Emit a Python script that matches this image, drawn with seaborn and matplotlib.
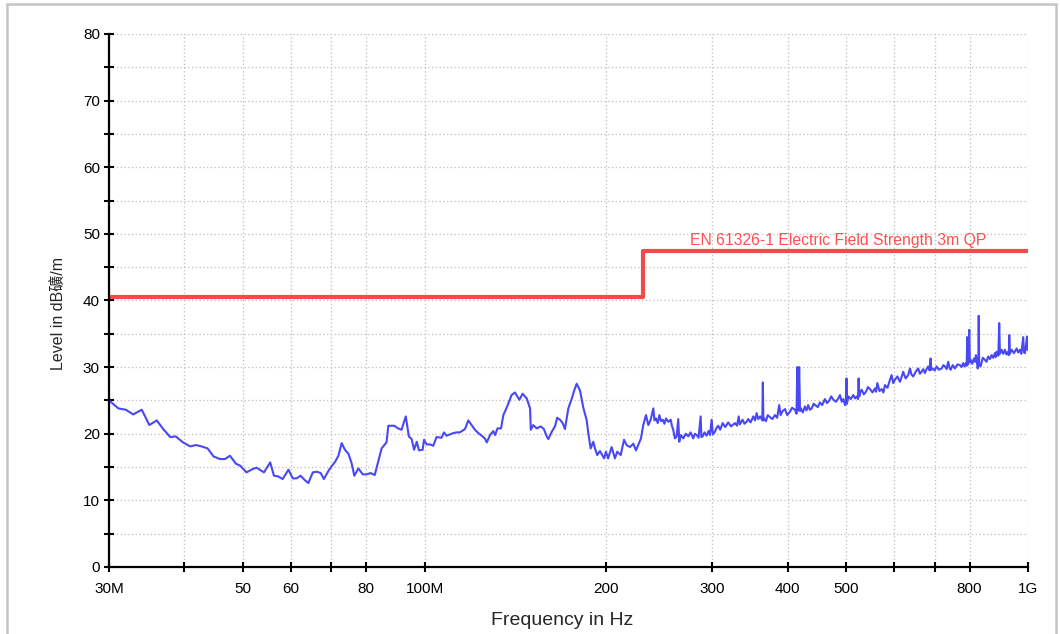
import pandas as pd
import seaborn as sns
import matplotlib
matplotlib.use("Agg")
from matplotlib import pyplot as plt
from matplotlib.patches import Rectangle

# measured trace (MHz, dBuV/m)
freq = [30.0, 31.1, 32.0, 32.9, 34.0, 35.0, 36.0, 36.9, 37.9, 38.7, 39.8, 40.9, 41.8, 42.7, 43.7,
        44.7, 45.8, 46.7, 47.6, 48.7, 49.5, 50.7, 51.9, 52.7, 54.2, 55.5, 56.3, 57.2, 58.2, 59.5,
        60.5, 61.4, 62.3, 63.4, 64.2, 65.3, 66.3, 67.3, 68.1, 69.5, 71.1, 72.0, 72.9, 73.8, 74.8,
        75.7, 76.5, 77.7, 79.0, 80.2, 81.4, 82.7, 84.9, 86.5, 87.1, 89.1, 90.4, 91.6, 93.1, 94.2,
        95.2, 96.1, 97.1, 97.9, 99.3, 99.8, 100.8, 102.1, 103.4, 104.7, 106.7, 107.7, 108.8, 110.2,
        111.6, 113.0, 114.4, 116.7, 118.2, 119.7, 121.2, 122.8, 124.4, 125.9, 126.8, 128.4, 130.0,
        130.9, 132.1, 133.9, 135.1, 137.1, 139.4, 141.2, 143.6, 145.4, 147.7, 149.6, 150.0, 151.4,
        153.4, 155.8, 157.7, 159.4, 160.4, 162.5, 164.5, 165.9, 167.7, 169.4, 170.9, 173.1, 175.3,
        176.9, 178.7, 181.0, 183.3, 185.7, 186.8, 188.5, 190.4, 191.6, 193.3, 195.3, 198.4, 199.8,
        201.5, 204.2, 206.8, 208.6, 211.4, 214.1, 216.2, 219.0, 221.8, 224.1, 226.9, 228.4,
        230.4, 232.8, 234.9, 237.0, 239.4, 240.5, 241.9, 243.5, 245.0, 246.5, 248.2, 249.8, 251.3,
        253.5, 255.8, 257.0, 258.3, 260.0, 261.7, 263.3, 264.3, 266.0, 268.4, 271.0, 273.6, 276.0,
        278.8, 280.5, 282.5, 284.5, 286.8, 287.6, 289.0, 291.0, 293.4, 295.5, 297.2, 299.1, 300.5,
        302.9, 304.8, 306.7, 309.0, 311.9, 315.0, 318.6, 322.0, 326.9, 329.5, 331.6, 333.0, 336.6,
        339.0, 341.8, 343.9, 347.0, 350.6, 353.0, 355.1, 357.3, 360.0, 362.8, 363.6, 364.4, 365.2,
        368.0, 370.5, 373.6, 377.0, 380.8, 384.0, 387.0, 389.1, 392.0, 395.7, 399.0, 403.2, 406.5,
        411.0, 413.5, 414.7, 416.0, 417.7, 419.0, 420.5, 423.5, 426.9, 429.5, 432.3, 435.0, 438.0,
        441.5, 445.2, 448.5, 452.1, 456.0, 460.8, 464.5, 468.5, 472.0, 475.9, 480.5, 484.9, 488.0,
        491.3, 494.5, 497.5, 499.5, 500.3, 501.2, 503.8, 508.5, 513.5, 517.0, 520.2, 522.8, 524.0,
        525.3, 527.5, 530.2, 534.5, 538.9, 543.0, 547.3, 552.5, 557.8, 560.0, 562.8, 567.5, 572.2,
        576.0, 579.4, 585.0, 590.6, 594.3, 598.0, 601.9, 607.5, 613.4, 617.5, 621.2, 627.0, 633.1,
        637.4, 641.0, 645.4, 651.5, 657.8, 662.0, 666.3, 670.5, 674.8, 679.0, 683.4, 687.0, 689.7,
        691.5, 695.0, 700.5, 705.6, 712.0, 719.3, 724.0, 728.4, 733.0, 737.6, 741.0, 744.4, 750.5,
        756.7, 764.0, 771.3, 776.0, 781.0, 785.0, 789.0, 791.5, 793.1, 795.0, 799.3, 801.0, 803.5,
        808.5, 813.8, 817.0, 820.0, 823.0, 825.3, 827.5, 828.6, 830.0, 834.6, 841.5, 848.4, 853.5,
        859.2, 865.0, 870.3, 876.0, 881.4, 884.0, 887.1, 893.0, 896.0, 898.5, 904.3, 910.0, 915.8,
        921.0, 927.4, 929.5, 931.0, 933.5, 939.6, 948.0, 957.6, 963.0, 969.5, 975.0, 981.9, 985.0,
        988.3, 992.0, 996.0, 998.0, 1000.0]
level = [25.0, 23.8, 23.6, 22.9, 23.6, 21.3, 22.0, 20.7, 19.5, 19.6, 18.7, 18.1, 18.3, 18.1, 17.8,
         16.6, 16.2, 16.2, 16.7, 15.5, 15.2, 14.2, 14.7, 14.9, 14.2, 15.7, 13.7, 13.6, 13.2, 14.6,
         13.3, 13.3, 13.7, 13.0, 12.6, 14.2, 14.3, 14.1, 13.2, 14.6, 15.8, 16.7, 18.6, 17.6, 17.0,
         15.6, 13.7, 14.8, 13.9, 13.9, 14.1, 13.8, 17.8, 18.7, 21.2, 21.2, 20.8, 20.6, 22.6, 19.6,
         19.2, 17.6, 18.8, 17.5, 17.6, 19.1, 18.4, 18.4, 18.2, 19.5, 19.4, 20.2, 19.7, 19.9,
         20.1, 20.2, 20.2, 20.7, 22.0, 21.3, 20.6, 20.1, 19.7, 19.3, 18.7, 19.8, 20.4,
         19.8, 20.8, 20.8, 22.8, 24.1, 25.8, 26.2, 25.1, 26.0, 25.3, 23.8, 20.6, 21.3,
         20.8, 21.1, 20.7, 19.6, 19.2, 20.3, 21.1, 22.4, 22.1, 21.6, 20.7, 23.8, 25.2,
         26.4, 27.5, 26.5, 23.9, 22.0, 20.1, 17.8, 18.8, 17.8, 16.8, 17.4, 16.3, 17.3,
         16.3, 18.0, 16.3, 17.3, 16.8, 19.1, 18.3, 18.0, 18.5, 17.5, 18.7, 19.3,
         21.3, 22.8, 21.3, 22.1, 23.8, 22.0, 22.3, 21.6, 22.8, 21.9, 22.1, 21.5, 22.3,
         21.8, 22.1, 21.2, 20.6, 19.3, 19.6, 22.2, 18.8, 19.8, 19.3, 20.0, 19.6, 20.2,
         19.3, 20.0, 19.8, 19.4, 22.6, 19.5, 19.6, 20.2, 19.7, 20.4, 19.8, 22.1, 19.9,
         20.3, 20.9, 21.2, 20.6, 21.6, 21.0, 21.7, 21.1, 21.6, 21.2, 22.6, 21.4, 22.1,
         21.5, 21.8, 22.2, 21.7, 22.6, 22.0, 23.1, 22.2, 22.6, 22.0, 27.7, 22.0, 22.3,
         21.9, 22.8, 22.5, 22.2, 22.8, 22.4, 24.3, 22.8, 23.4, 23.7, 22.8, 23.3, 23.9,
         23.6, 23.0, 30.0, 23.5, 30.0, 23.4, 23.8, 23.2, 24.1, 23.5, 24.3, 23.6, 23.8,
         24.5, 24.2, 24.0, 24.7, 24.3, 25.2, 24.6, 25.0, 25.6, 25.1, 24.8, 25.3, 25.8,
         24.8, 25.2, 24.3, 24.8, 28.3, 24.5, 25.6, 25.2, 25.8, 25.3, 25.6, 25.2, 28.3,
         25.6, 26.3, 26.6, 25.9, 26.3, 27.0, 26.7, 26.2, 26.8, 26.3, 27.6, 26.4, 26.7,
         26.2, 27.3, 26.9, 28.1, 28.8, 27.6, 28.1, 28.6, 27.8, 28.5, 29.3, 28.3, 28.8,
         29.8, 28.9, 28.6, 29.3, 29.8, 29.0, 29.3, 29.7, 29.1, 29.7, 30.1, 29.5, 31.3,
         29.6, 29.8, 29.5, 30.1, 29.6, 29.8, 30.3, 30.1, 29.7, 30.8, 29.9, 29.6, 30.3,
         29.8, 30.4, 30.3, 30.0, 30.6, 30.1, 30.6, 30.2, 34.5, 30.4, 35.6, 30.7, 31.1,
         30.5, 31.3, 30.8, 31.8, 30.6, 29.8, 30.3, 37.7, 30.6, 30.1, 31.4, 31.1, 30.8,
         31.6, 31.2, 31.8, 31.4, 32.1, 31.5, 32.3, 31.7, 36.6, 32.0, 32.6, 32.0, 32.6,
         31.9, 32.3, 31.8, 34.8, 32.0, 32.6, 32.1, 32.8, 32.2, 32.6, 32.0, 34.5, 32.2,
         32.1, 33.0, 34.6, 32.6, 33.1]

# EN 61326-1 limit
limit_freq = [30, 230, 230, 1000]
limit_level = [40.5, 40.5, 47.4, 47.4]
limit_name = "EN 61326-1 Electric Field Strength 3m QP"

xticks = [30, 40, 50, 60, 70, 80, 100, 200, 300, 400, 500, 600, 700, 800, 1000]
xticklabels = ["30M", "", "50", "60", "", "80", "100M", "200", "300", "400", "500", "", "", "800", "1G"]
yticks = list(range(0, 81, 5))
yticklabels = [str(v) if v % 10 == 0 else "" for v in yticks]

sns.set_style("white")
plt.rcParams["font.family"] = ["Liberation Sans", "Noto Sans CJK SC", "DejaVu Sans"]

fig = plt.figure(figsize=(10.6, 6.34), dpi=100)
ax = fig.add_axes([0.1028, 0.1057, 0.8670, 0.8407])

trace = pd.DataFrame({"f": freq, "lvl": level})
lim = pd.DataFrame({"f": limit_freq, "lvl": limit_level})

sns.lineplot(data=lim, x="f", y="lvl", sort=False, estimator=None, color="#f24a4a", linewidth=3.0, ax=ax)
sns.lineplot(data=trace, x="f", y="lvl", sort=False, estimator=None, color="#4848f4", linewidth=1.5, ax=ax)

ax.text(852, 47.9, limit_name, color="#ff5050", fontsize=11.3, ha="right", va="bottom")

ax.set_xscale("log")
ax.set_xlim(30, 1000)
ax.set_ylim(0, 80)
ax.set_xticks(xticks)
ax.set_xticklabels(xticklabels)
ax.xaxis.set_minor_locator(matplotlib.ticker.NullLocator())
ax.set_yticks(yticks)
ax.set_yticklabels(yticklabels)

ax.grid(True, color="#bdbdbd", linestyle=(0, (1, 2)), linewidth=0.9)
ax.tick_params(direction="inout", length=7, width=1.5, labelsize=11, colors="black",
               bottom=True, left=True)
ax.tick_params(axis="x", pad=7)
ax.tick_params(axis="y", pad=3)

for s in ["top", "right"]:
    ax.spines[s].set_visible(False)
for s in ["left", "bottom"]:
    ax.spines[s].set_linewidth(1.6)
    ax.spines[s].set_color("black")

ax.set_xlabel("Frequency in Hz", fontsize=14)
ax.xaxis.set_label_coords(0.493, -0.084)
ax.set_ylabel("Level in dB礦/m", fontsize=11.5)
ax.yaxis.set_label_coords(-0.048, 0.4765)

fig.patches.append(Rectangle((0.0066, -0.02), 0.9896, 1.0137, transform=fig.transFigure,
                             fill=False, edgecolor="#c4c4c4", linewidth=1.8))

fig.savefig("out.png", dpi=100)
